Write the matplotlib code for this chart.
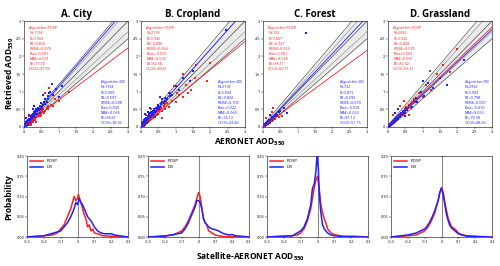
import numpy as np
import matplotlib
matplotlib.use("Agg")
import matplotlib.pyplot as plt

plt.rcParams['font.family'] = ['Open Sans', 'DejaVu Sans']
plt.rcParams['mathtext.fontset'] = 'custom'
plt.rcParams['mathtext.rm'] = 'Open Sans'
plt.rcParams['mathtext.bf'] = 'Open Sans:bold'

titles = ["A. City", "B. Cropland", "C. Forest", "D. Grassland"]

posp_stats = [
    ["N=1194", "R=0.902", "R2=0.816", "RMSE=0.078", "Bias=0.001", "MAE=0.031", "EE=77.72", "GCOS=47.99"],
    ["N=2118", "R=0.942", "R2=0.886", "RMSE=0.064", "Bias=-0.010", "MAE=0.032", "EE=82.58", "GCOS=49.81"],
    ["N=732", "R=0.867", "R2=0.727", "RMSE=0.056", "Bias=0.001", "MAE=0.028", "EE=88.11", "GCOS=60.11"],
    ["N=2992", "R=0.926", "R2=0.849", "RMSE=0.075", "Bias=0.005", "MAE=0.041", "EE=82.42", "GCOS=53.41"],
]
db_stats = [
    ["N=1194", "R=0.909", "R2=0.597", "RMSE=0.098", "Bias=0.035", "MAE=0.065", "EE=68.61", "GCOS=38.36"],
    ["N=2118", "R=0.934", "R2=0.822", "RMSE=0.105", "Bias=0.022", "MAE=0.060", "EE=74.13", "GCOS=43.46"],
    ["N=732", "R=0.873", "R2=0.595", "RMSE=0.070", "Bias=-0.018", "MAE=0.033", "EE=81.12", "GCOS=51.75"],
    ["N=2992", "R=0.903", "R2=0.798", "RMSE=0.087", "Bias=-0.010", "MAE=0.053", "EE=79.38", "GCOS=48.36"],
]

# regression lines (slope, intercept)
posp_fit = [(0.74, 0.02), (0.80, 0.02), (0.72, 0.01), (0.94, 0.01)]
db_fit = [(1.13, 0.02), (1.10, 0.0), (1.04, 0.0), (0.92, 0.0)]

city_posp = [(0.03,0.04),(0.05,0.02),(0.06,0.09),(0.08,0.06),(0.1,0.12),(0.11,0.05),(0.12,0.09),(0.14,0.15),(0.15,0.1),(0.17,0.2),(0.18,0.13),(0.2,0.17),(0.22,0.25),(0.23,0.14),(0.25,0.21),(0.27,0.3),(0.28,0.19),(0.3,0.26),(0.32,0.22),(0.34,0.33),(0.36,0.27),(0.38,0.36),(0.4,0.3),(0.43,0.4),(0.45,0.32),(0.48,0.42),(0.5,0.35),(0.55,0.5),(0.6,0.45),(0.65,0.55),(0.7,0.5),(0.78,0.62),(0.85,0.6),(0.9,0.78),(1.0,0.75),(0.62,0.95),(0.72,1.1),(1.3,1.0),(0.15,0.3),(0.08,0.18),(0.35,0.15),(0.2,0.05),(0.04,0.07),(0.07,0.03),(0.09,0.1),(0.13,0.07),(0.16,0.16),(0.19,0.11),(0.21,0.2),(0.24,0.18),(0.26,0.15),(0.29,0.24),(0.31,0.3),(0.33,0.19),(0.37,0.31),(0.41,0.35),(0.47,0.38),(0.52,0.45),(0.58,0.4),(0.68,0.6)]
city_db = [(0.02,0.05),(0.04,0.09),(0.05,0.03),(0.06,0.13),(0.08,0.1),(0.09,0.18),(0.1,0.14),(0.11,0.06),(0.12,0.21),(0.13,0.16),(0.15,0.24),(0.16,0.12),(0.18,0.22),(0.19,0.3),(0.2,0.16),(0.21,0.28),(0.22,0.34),(0.24,0.25),(0.25,0.37),(0.27,0.3),(0.28,0.43),(0.3,0.34),(0.32,0.46),(0.34,0.38),(0.36,0.5),(0.38,0.44),(0.4,0.55),(0.42,0.48),(0.45,0.6),(0.48,0.52),(0.5,0.68),(0.55,0.62),(0.6,0.78),(0.65,0.7),(0.7,0.88),(0.75,1.0),(0.8,1.22),(0.85,0.92),(0.92,1.08),(1.0,0.85),(1.1,1.15),(0.3,0.6),(0.15,0.35),(0.45,0.4),(0.07,0.25),(0.55,0.9),(0.03,0.02),(0.06,0.07),(0.08,0.15),(0.11,0.11),(0.14,0.19),(0.17,0.17),(0.2,0.25),(0.23,0.2),(0.26,0.33),(0.29,0.27),(0.33,0.4),(0.37,0.36),(0.41,0.5),(0.44,0.52),(0.52,0.58),(0.58,0.72),(0.62,0.66),(0.68,0.78),(0.72,0.95),(0.25,0.5)]

crop_posp = [(0.03,0.05),(0.05,0.03),(0.07,0.1),(0.09,0.06),(0.1,0.13),(0.12,0.08),(0.14,0.16),(0.15,0.11),(0.17,0.2),(0.19,0.14),(0.2,0.18),(0.22,0.26),(0.24,0.17),(0.26,0.24),(0.28,0.31),(0.3,0.22),(0.32,0.3),(0.35,0.26),(0.37,0.36),(0.4,0.3),(0.42,0.4),(0.45,0.34),(0.48,0.46),(0.5,0.38),(0.55,0.5),(0.6,0.44),(0.65,0.6),(0.7,0.52),(0.75,0.68),(0.8,0.58),(0.9,0.75),(1.0,0.7),(1.1,0.9),(1.2,0.85),(1.3,1.2),(1.45,1.05),(1.55,1.4),(1.6,1.75),(1.9,1.3),(1.2,1.5),(0.95,1.15),(0.6,0.25),(0.3,0.5),(0.15,0.35),(0.85,0.95),(0.04,0.08),(0.08,0.04),(0.11,0.1),(0.13,0.14),(0.16,0.13),(0.18,0.19),(0.21,0.16),(0.23,0.22),(0.27,0.2),(0.33,0.27),(0.38,0.32),(0.44,0.42),(0.52,0.44),(0.58,0.55),(0.68,0.64),(0.72,0.75),(1.05,0.95),(1.35,0.95),(2.0,1.8)]
crop_db = [(0.02,0.06),(0.04,0.1),(0.05,0.03),(0.06,0.14),(0.08,0.1),(0.09,0.19),(0.1,0.13),(0.11,0.06),(0.12,0.22),(0.14,0.16),(0.15,0.26),(0.16,0.12),(0.18,0.23),(0.19,0.31),(0.2,0.17),(0.22,0.29),(0.23,0.36),(0.25,0.26),(0.26,0.39),(0.28,0.31),(0.3,0.42),(0.32,0.35),(0.34,0.46),(0.36,0.4),(0.38,0.5),(0.4,0.43),(0.43,0.55),(0.46,0.5),(0.5,0.62),(0.55,0.58),(0.6,0.72),(0.65,0.68),(0.7,0.82),(0.75,0.78),(0.8,0.95),(0.9,0.92),(1.0,1.15),(1.1,1.05),(1.2,1.4),(1.4,1.3),(1.5,1.6),(0.25,0.55),(0.12,0.38),(0.55,0.85),(2.45,2.75),(0.4,0.28),(0.03,0.03),(0.07,0.08),(0.09,0.12),(0.13,0.11),(0.15,0.18),(0.17,0.2),(0.21,0.22),(0.24,0.3),(0.27,0.28),(0.31,0.36),(0.35,0.33),(0.39,0.44),(0.44,0.46),(0.48,0.56),(0.52,0.52),(0.58,0.64),(0.62,0.78),(0.68,0.74),(0.85,0.88),(0.2,0.42)]

forest_posp = [(0.02,0.03),(0.03,0.06),(0.04,0.02),(0.05,0.05),(0.06,0.08),(0.07,0.04),(0.08,0.07),(0.09,0.1),(0.1,0.06),(0.11,0.09),(0.12,0.12),(0.13,0.08),(0.14,0.11),(0.15,0.14),(0.16,0.1),(0.18,0.13),(0.19,0.17),(0.2,0.12),(0.22,0.16),(0.24,0.2),(0.26,0.18),(0.28,0.22),(0.3,0.2),(0.33,0.26),(0.36,0.24),(0.4,0.3),(0.45,0.28),(0.5,0.38),(0.3,0.55),(0.25,0.42),(0.55,0.3),(0.1,0.25),(0.6,0.45),(0.03,0.04),(0.05,0.03),(0.07,0.07),(0.09,0.06),(0.12,0.1),(0.15,0.09),(0.17,0.15),(0.21,0.14),(0.23,0.19),(0.27,0.21)]
forest_db = [(0.02,0.04),(0.03,0.07),(0.04,0.03),(0.05,0.06),(0.06,0.09),(0.07,0.05),(0.08,0.08),(0.09,0.12),(0.1,0.07),(0.11,0.1),(0.12,0.14),(0.13,0.09),(0.14,0.13),(0.15,0.17),(0.16,0.11),(0.17,0.15),(0.18,0.2),(0.2,0.14),(0.21,0.19),(0.23,0.24),(0.25,0.2),(0.27,0.27),(0.29,0.24),(0.31,0.31),(0.34,0.3),(0.37,0.36),(0.4,0.34),(0.45,0.42),(0.5,0.45),(0.6,0.55),(0.2,0.35),(1.25,2.65),(0.7,0.4),(0.03,0.02),(0.04,0.05),(0.06,0.06),(0.08,0.1),(0.1,0.09),(0.12,0.11),(0.14,0.16),(0.16,0.14),(0.19,0.18),(0.22,0.22)]

grass_posp = [(0.02,0.04),(0.04,0.02),(0.05,0.08),(0.07,0.05),(0.08,0.11),(0.1,0.07),(0.11,0.14),(0.13,0.1),(0.14,0.17),(0.16,0.12),(0.18,0.2),(0.2,0.15),(0.22,0.24),(0.24,0.19),(0.26,0.28),(0.28,0.22),(0.3,0.32),(0.33,0.27),(0.36,0.38),(0.39,0.33),(0.42,0.44),(0.45,0.38),(0.5,0.52),(0.55,0.47),(0.6,0.62),(0.65,0.55),(0.7,0.72),(0.8,0.7),(0.9,0.95),(1.0,0.85),(1.1,1.2),(1.25,1.05),(1.4,1.5),(1.6,1.75),(1.8,1.55),(0.35,0.6),(0.15,0.35),(0.6,0.35),(1.2,1.6),(0.45,0.75),(0.03,0.06),(0.06,0.04),(0.09,0.09),(0.12,0.12),(0.15,0.15),(0.19,0.17),(0.23,0.21),(0.27,0.25),(0.31,0.28),(0.35,0.33),(0.4,0.4),(0.48,0.45),(0.52,0.58),(0.75,0.8),(2.0,2.2)]
grass_db = [(0.02,0.03),(0.03,0.06),(0.05,0.04),(0.06,0.09),(0.08,0.06),(0.09,0.12),(0.11,0.08),(0.12,0.15),(0.14,0.11),(0.15,0.18),(0.17,0.13),(0.19,0.22),(0.21,0.17),(0.23,0.26),(0.25,0.2),(0.27,0.29),(0.29,0.24),(0.32,0.34),(0.35,0.29),(0.38,0.4),(0.41,0.34),(0.44,0.46),(0.48,0.41),(0.52,0.55),(0.56,0.48),(0.62,0.6),(0.68,0.58),(0.75,0.75),(0.85,0.72),(0.95,0.98),(1.05,0.88),(1.15,1.25),(1.3,1.1),(1.5,1.4),(2.2,1.9),(1.0,1.3),(0.3,0.5),(0.5,0.3),(0.2,0.4),(1.7,1.2),(0.04,0.05),(0.07,0.07),(0.1,0.1),(0.13,0.12),(0.16,0.16),(0.2,0.19),(0.24,0.23),(0.28,0.27),(0.33,0.3),(0.37,0.35),(0.43,0.4),(0.5,0.47),(0.58,0.55),(0.65,0.66),(0.8,0.82)]

scatter_posp = [city_posp, crop_posp, forest_posp, grass_posp]
scatter_db = [city_db, crop_db, forest_db, grass_db]

# probability distributions of retrieval error
pdf_x = {
    0: ([-0.3,-0.2,-0.15,-0.12,-0.1,-0.08,-0.06,-0.04,-0.03,-0.02,-0.01,0.0,0.005,0.02,0.03,0.04,0.05,0.06,0.07,0.08,0.09,0.1,0.12,0.15,0.2,0.3],
        [0.0,0.003,0.005,0.01,0.02,0.03,0.05,0.07,0.085,0.10,0.09,0.095,0.105,0.085,0.07,0.055,0.045,0.025,0.03,0.015,0.02,0.01,0.008,0.003,0.002,0.0],
        [-0.3,-0.2,-0.1,-0.08,-0.06,-0.04,-0.02,-0.01,0.0,0.01,0.02,0.03,0.04,0.05,0.06,0.07,0.08,0.1,0.12,0.14,0.16,0.2,0.22,0.25,0.3],
        [0.0,0.003,0.015,0.025,0.035,0.05,0.07,0.085,0.08,0.095,0.085,0.08,0.07,0.06,0.05,0.045,0.04,0.025,0.015,0.01,0.008,0.008,0.005,0.003,0.0]),
    1: ([-0.3,-0.2,-0.15,-0.1,-0.08,-0.06,-0.04,-0.02,-0.01,0.0,0.01,0.02,0.03,0.04,0.05,0.06,0.07,0.08,0.1,0.12,0.15,0.3],
        [0.0,0.003,0.005,0.015,0.025,0.04,0.06,0.08,0.095,0.11,0.10,0.07,0.045,0.035,0.03,0.015,0.013,0.01,0.005,0.003,0.001,0.0],
        [-0.3,-0.2,-0.1,-0.08,-0.06,-0.04,-0.02,-0.01,0.0,0.01,0.02,0.03,0.04,0.05,0.06,0.08,0.1,0.12,0.14,0.16,0.18,0.2,0.22,0.25,0.3],
        [0.0,0.002,0.01,0.02,0.035,0.055,0.075,0.09,0.09,0.085,0.07,0.045,0.035,0.03,0.025,0.02,0.018,0.015,0.01,0.007,0.005,0.006,0.003,0.002,0.0]),
    2: ([-0.3,-0.15,-0.12,-0.1,-0.08,-0.06,-0.04,-0.02,-0.01,0.0,0.01,0.02,0.03,0.04,0.05,0.06,0.07,0.08,0.1,0.12,0.15,0.22,0.3],
        [0.0,0.003,0.005,0.01,0.02,0.04,0.07,0.12,0.14,0.15,0.12,0.08,0.06,0.045,0.035,0.02,0.015,0.01,0.006,0.004,0.002,0.002,0.0],
        [-0.3,-0.15,-0.1,-0.08,-0.06,-0.04,-0.03,-0.02,-0.01,-0.003,0.005,0.01,0.02,0.03,0.04,0.05,0.06,0.08,0.1,0.15,0.3],
        [0.0,0.003,0.015,0.025,0.045,0.08,0.12,0.13,0.16,0.20,0.17,0.11,0.06,0.03,0.02,0.015,0.01,0.005,0.003,0.001,0.0]),
    3: ([-0.3,-0.2,-0.15,-0.1,-0.08,-0.06,-0.04,-0.02,-0.01,0.0,0.01,0.02,0.03,0.04,0.05,0.06,0.08,0.1,0.12,0.15,0.2,0.3],
        [0.0,0.003,0.005,0.015,0.025,0.04,0.06,0.09,0.11,0.122,0.11,0.085,0.065,0.045,0.035,0.025,0.02,0.01,0.006,0.003,0.002,0.0],
        [-0.3,-0.2,-0.15,-0.1,-0.08,-0.06,-0.04,-0.02,-0.01,0.0,0.01,0.02,0.03,0.04,0.05,0.06,0.08,0.1,0.12,0.15,0.2,0.3],
        [0.0,0.005,0.01,0.02,0.03,0.045,0.065,0.09,0.11,0.12,0.105,0.08,0.055,0.04,0.028,0.022,0.015,0.008,0.005,0.002,0.001,0.0]),
}

RED = '#ff2020'
BLUE = '#2020ff'

fig = plt.figure(figsize=(5.0, 2.66), dpi=100)

top_lefts = [0.048, 0.282, 0.526, 0.776]
bot_lefts = [0.054, 0.296, 0.534, 0.782]

xx = np.linspace(0, 3, 50)
for i in range(4):
    ax = fig.add_axes([top_lefts[i], 0.5226, 0.208, 0.398])
    ax.fill_between(xx, xx - (0.05 + 0.15 * xx), xx + (0.05 + 0.15 * xx), color='#ebebeb', lw=0, zorder=0)
    ax.plot(xx, xx + (0.05 + 0.15 * xx), color='#333333', lw=0.4, zorder=1)
    ax.plot(xx, xx - (0.05 + 0.15 * xx), color='#333333', lw=0.4, zorder=1)
    ax.plot(xx, xx * 1.1, color='#888888', lw=0.4, zorder=1)
    ax.plot(xx, xx * 0.9, color='#888888', lw=0.4, zorder=1)
    ax.plot(xx, xx, color='#222222', lw=0.4, zorder=1)
    p = np.array(scatter_posp[i]); d = np.array(scatter_db[i])
    ax.scatter(p[:, 0], p[:, 1], s=2.6, marker='s', color=RED, lw=0, zorder=2)
    ax.scatter(d[:, 0], d[:, 1], s=2.6, marker='s', color=BLUE, lw=0, zorder=3)
    ax.plot(xx, posp_fit[i][0] * xx + posp_fit[i][1], color=RED, lw=0.6, zorder=4)
    ax.plot(xx, db_fit[i][0] * xx + db_fit[i][1], color=BLUE, lw=0.6, zorder=4)
    ax.set_xlim(0, 3); ax.set_ylim(0, 3)
    ax.set_xticks([0, 0.5, 1, 1.5, 2, 2.5, 3]); ax.set_yticks([0, 0.5, 1, 1.5, 2, 2.5, 3])
    ax.set_xticklabels(['0', '0.5', '1', '1.5', '2', '2.5', '3'])
    ax.set_yticklabels(['0', '0.5', '1', '1.5', '2', '2.5', '3'])
    ax.tick_params(labelsize=2.8, length=1.2, width=0.3, direction='out', pad=0.8)
    for s in ax.spines.values():
        s.set_linewidth(0.4)
    ax.set_title(titles[i], fontsize=7, fontweight='bold', pad=3)
    ax.text(0.05, 0.95, "Algorithm:POSP\n" + "\n".join(posp_stats[i]), transform=ax.transAxes,
            fontsize=2.7, color=RED, va='top', ha='left', linespacing=1.35, zorder=5)
    ax.text(0.74, 0.44, "Algorithm:DB\n" + "\n".join(db_stats[i]), transform=ax.transAxes,
            fontsize=2.7, color=BLUE, va='top', ha='left', linespacing=1.35, zorder=5)

    bx = fig.add_axes([bot_lefts[i], 0.109, 0.202, 0.3045])
    px, py, dx, dy = pdf_x[i]
    bx.axvline(0, color='#888888', lw=0.8, zorder=1)
    bx.plot(px, py, color=RED, lw=1.1, label='POSP', zorder=2)
    bx.plot(dx, dy, color=BLUE, lw=1.1, label='DB', zorder=3)
    bx.set_xlim(-0.3, 0.3); bx.set_ylim(0, 0.2)
    bx.set_xticks([-0.3, -0.2, -0.1, 0, 0.1, 0.2, 0.3])
    bx.set_xticklabels(['-0.3', '-0.2', '-0.1', '0', '0.1', '0.2', '0.3'])
    bx.set_yticks([0, 0.05, 0.1, 0.15, 0.2])
    bx.set_yticklabels(['0.00', '0.05', '0.10', '0.15', '0.20'])
    bx.tick_params(labelsize=2.8, length=1.2, width=0.3, direction='out', pad=0.8)
    for s in bx.spines.values():
        s.set_linewidth(0.4)
    bx.legend(loc='upper left', fontsize=3.2, frameon=False, handlelength=3, handletextpad=0.8,
              borderaxespad=0.3, labelspacing=0.4)

fig.text(0.02, 0.725, r"Retrieved AOD$_{\mathbf{550}}$", rotation=90, fontsize=6, fontweight='bold',
         ha='center', va='center')
fig.text(0.5, 0.465, r"AERONET AOD$_{\mathbf{550}}$", fontsize=6, fontweight='bold', ha='center', va='center')
fig.text(0.018, 0.26, "Probability", rotation=90, fontsize=6, fontweight='bold', ha='center', va='center')
fig.text(0.5, 0.035, r"Satellite-AERONET AOD$_{\mathbf{550}}$", fontsize=6, fontweight='bold', ha='center', va='center')

fig.savefig("out.png", dpi=100)
